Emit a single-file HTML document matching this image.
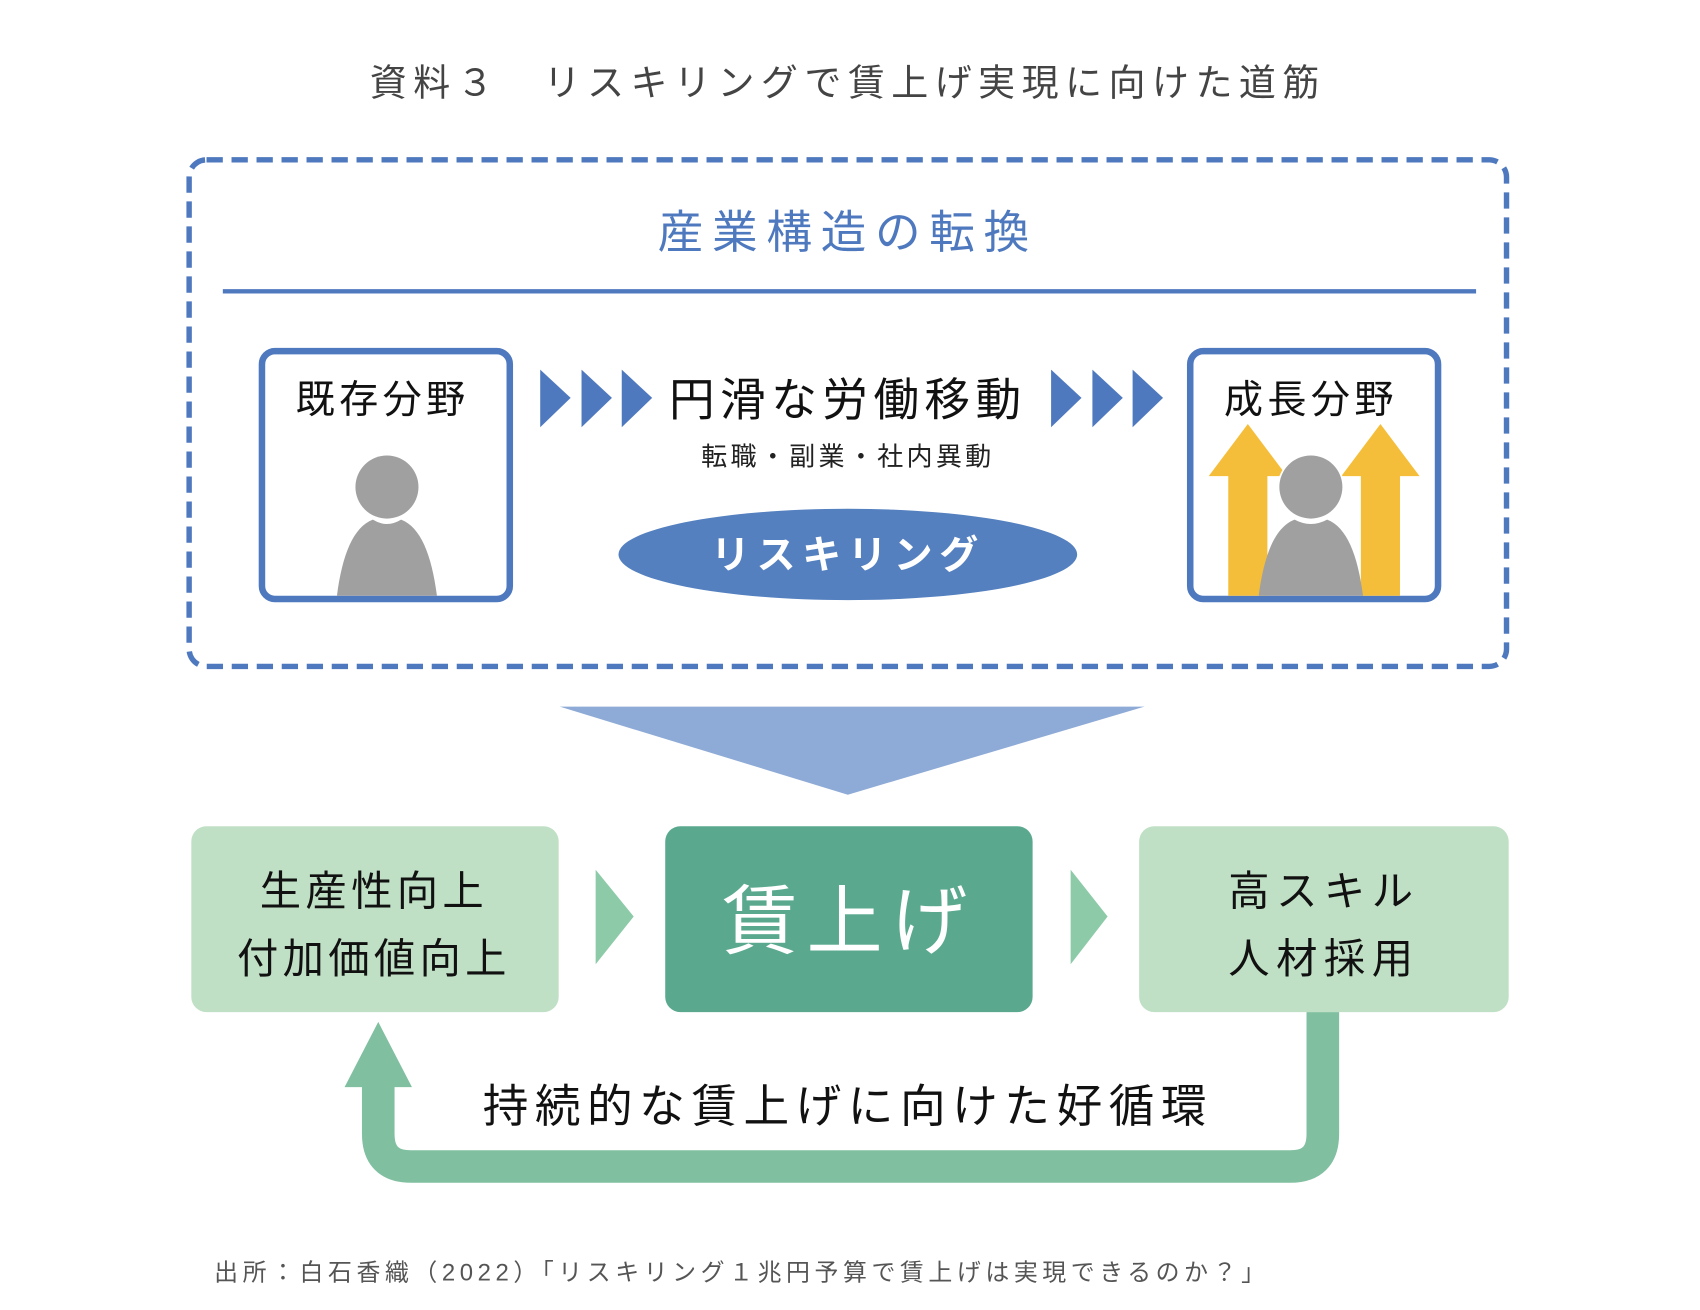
<!DOCTYPE html>
<html><head><meta charset="utf-8"><style>
html,body{margin:0;padding:0;background:#fff}
svg{display:block}
text{font-family:"Liberation Sans","Noto Sans CJK JP",sans-serif}
</style></head><body>
<svg width="1700" height="1310" viewBox="0 0 1564 1205" preserveAspectRatio="none" xmlns="http://www.w3.org/2000/svg">
<rect width="1564" height="1205" fill="#fff"/>
<text x="780" y="88" text-anchor="middle" font-size="34" fill="#444" letter-spacing="6">資料３　リスキリングで賃上げ実現に向けた道筋</text>
<rect x="174" y="147" width="1212" height="466" rx="16" fill="none" stroke="#4f79bf" stroke-width="5" stroke-dasharray="15 8"/>
<text x="780" y="228" text-anchor="middle" font-size="42" fill="#4f79bf" letter-spacing="8">産業構造の転換</text>
<line x1="205" y1="268" x2="1358" y2="268" stroke="#4f79bf" stroke-width="4"/>
<rect x="241" y="323" width="228" height="228" rx="12" fill="#fff" stroke="#4f79bf" stroke-width="6"/>
<text x="352" y="380" text-anchor="middle" font-size="36" fill="#111" letter-spacing="4">既存分野</text>
<path d="M310 548 C315 510 325 485 343 478 Q356 486 369 478 C387 485 397 510 402 548 Z" fill="#a0a0a0"/>
<circle cx="356" cy="448" r="29" fill="#a0a0a0"/>
<rect x="1095" y="323" width="228" height="228" rx="12" fill="#fff" stroke="#4f79bf" stroke-width="6"/>
<text x="1206" y="380" text-anchor="middle" font-size="36" fill="#111" letter-spacing="4">成長分野</text>
<polygon points="1148,390 1184,438 1166,438 1166,548 1130,548 1130,438 1112,438" fill="#f5be3a"/>
<polygon points="1270,390 1306,438 1288,438 1288,548 1252,548 1252,438 1234,438" fill="#f5be3a"/>
<circle cx="1206" cy="449" r="31" fill="#fff"/>
<path d="M1158 548 C1163 510 1173 485 1191 478 Q1206 486 1221 478 C1239 485 1249 510 1254 548 Z" fill="#a0a0a0"/>
<circle cx="1206" cy="448" r="29" fill="#a0a0a0"/>
<g fill="#4f79bf">
<polygon points="497,340 525,366 497,393"/><polygon points="535,340 563,366 535,393"/><polygon points="572,340 600,366 572,393"/>
<polygon points="967,340 995,366 967,393"/><polygon points="1005,340 1033,366 1005,393"/><polygon points="1042,340 1070,366 1042,393"/>
</g>
<text x="780" y="382" text-anchor="middle" font-size="42" fill="#111" letter-spacing="5">円滑な労働移動</text>
<text x="780" y="428" text-anchor="middle" font-size="24" fill="#222" letter-spacing="3">転職・副業・社内異動</text>
<ellipse cx="780" cy="510" rx="211" ry="42" fill="#5480c0"/>
<text x="780" y="523" text-anchor="middle" font-size="36" fill="#fff" font-weight="bold" letter-spacing="6">リスキリング</text>
<polygon points="515,650 1053,650 780,731" fill="#8eaad6"/>
<rect x="176" y="760" width="338" height="171" rx="14" fill="#c0e0c5"/>
<rect x="612" y="760" width="338" height="171" rx="14" fill="#5aa98e"/>
<rect x="1048" y="760" width="340" height="171" rx="14" fill="#c0e0c5"/>
<text x="344" y="833" text-anchor="middle" font-size="38" fill="#111" letter-spacing="4">生産性向上</text>
<text x="344" y="895" text-anchor="middle" font-size="38" fill="#111" letter-spacing="4">付加価値向上</text>
<text x="781" y="872" text-anchor="middle" font-size="70" fill="#fff" letter-spacing="8">賃上げ</text>
<text x="1218" y="833" text-anchor="middle" font-size="38" fill="#111" letter-spacing="6">高スキル</text>
<text x="1218" y="895" text-anchor="middle" font-size="38" fill="#111" letter-spacing="6">人材採用</text>
<polygon points="548,800 583,843 548,887" fill="#8ccaa8"/>
<polygon points="985,800 1019,843 985,887" fill="#8ccaa8"/>
<path d="M1217 931 V1043 Q1217 1073 1187 1073 H378 Q348 1073 348 1043 V998" fill="none" stroke="#80bfa0" stroke-width="30"/>
<polygon points="317,1000 379,1000 348,940" fill="#80bfa0"/>
<text x="780" y="1032" text-anchor="middle" font-size="42" fill="#111" letter-spacing="6">持続的な賃上げに向けた好循環</text>
<text x="197" y="1178" font-size="22" fill="#555" letter-spacing="4.2">出所：白石香織（2022）「リスキリング１兆円予算で賃上げは実現できるのか？」</text>
</svg>
</body></html>
